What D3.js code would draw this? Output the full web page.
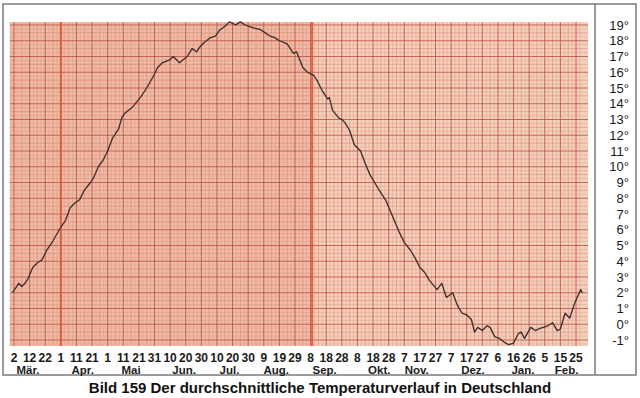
<!DOCTYPE html>
<html>
<head>
<meta charset="utf-8">
<script src="https://cdn.jsdelivr.net/npm/d3@7/dist/d3.min.js"></script>
<style>
  body { margin: 0; background: #fff; }
  svg { display: block; font-family: "Liberation Sans", Arial, sans-serif; }
</style>
</head>
<body>
<svg id="chart" width="640" height="398"></svg>
<script>
// Days counted from 1 March (day 0), temperature in °C
const days = [0, 2, 4, 6, 8, 10, 13, 16, 19, 22, 26, 30, 34, 37, 40, 43, 46, 50, 52, 55,
  58, 61, 64, 68, 70, 72, 77, 82, 86, 90, 93, 96, 101, 103, 107, 112, 115, 118, 120, 123,
  127, 130, 133, 136, 139, 143, 146, 149, 152, 155, 159, 162, 165, 168, 171, 176, 180, 182, 186, 189,
  193, 195, 198, 202, 203, 205, 209, 211, 213, 216, 219, 223, 226, 229, 232, 235, 239, 242, 245, 248,
  251, 255, 258, 261, 264, 267, 272, 275, 278, 282, 285, 288, 291, 294, 296, 298, 301, 304, 306, 309,
  312, 316, 318, 321, 324, 326, 328, 332, 335, 337, 340, 343, 346, 349, 351, 354, 357, 360, 364, 365];
const temps = [2.0, 2.3, 2.6, 2.4, 2.6, 2.9, 3.6, 3.9, 4.1, 4.7, 5.3, 6.0, 6.6, 7.4, 7.7, 7.9, 8.5, 9.0, 9.3, 10.0,
  10.4, 11.0, 11.8, 12.4, 13.1, 13.4, 13.8, 14.4, 15.0, 15.7, 16.3, 16.6, 16.8, 17.0, 16.6, 17.0, 17.5, 17.3, 17.6, 17.9,
  18.2, 18.3, 18.7, 18.9, 19.2, 19.0, 19.2, 19.0, 18.9, 18.8, 18.7, 18.5, 18.3, 18.2, 18.0, 17.8, 17.2, 17.3, 16.3, 16.0,
  15.8, 15.5, 14.9, 14.3, 14.4, 13.6, 13.1, 13.0, 12.8, 12.3, 11.4, 11.0, 10.2, 9.5, 9.0, 8.5, 7.9, 7.2, 6.5, 5.8,
  5.2, 4.7, 4.2, 3.6, 3.3, 2.8, 2.2, 2.6, 1.7, 2.0, 1.2, 0.7, 0.6, 0.3, -0.5, -0.2, -0.4, -0.1, -0.2, -0.8,
  -0.9, -1.2, -1.3, -1.2, -0.6, -0.5, -0.9, -0.2, -0.4, -0.3, -0.2, -0.1, 0.1, -0.4, -0.3, 0.7, 0.4, 1.3, 2.2, 2.0];

// Tick labels under the strip, one every ten days from 2 March
const dayTicks = [1, 11, 21, 31, 41, 51, 61, 71, 81, 91, 101, 111, 121, 131, 141, 151, 161, 171, 181,
  191, 201, 211, 221, 231, 241, 251, 261, 271, 281, 291, 301, 311, 321, 331, 341, 351, 361];
const dayLabels = ["2", "12", "22", "1", "11", "21", "1", "11", "21", "31", "10", "20", "30", "10", "20", "30",
  "9", "19", "29", "8", "18", "28", "8", "18", "28", "7", "17", "27", "7", "17", "27", "6", "16", "26", "5", "15", "25"];
const months = ["Mär.", "Apr.", "Mai", "Jun.", "Jul.", "Aug.", "Sep.", "Okt.", "Nov.", "Dez.", "Jan.", "Feb."];
const monthPos = [10, 45, 76, 110, 139, 169, 200, 235, 259, 295, 327, 355];
const degTicks = d3.range(-1, 20);
const redLines = [31, 192];

const svg = d3.select("#chart");
const plotL = 10, plotR = 588, plotT = 22, plotB = 346;

const x = d3.scaleLinear().domain([1, 361]).range([14, 576]);
const y = d3.scaleLinear().domain([-1, 19]).range([340, 25]);

// outer frame and divider
svg.append("rect").attr("x", 3).attr("y", 4).attr("width", 633).attr("height", 371)
  .attr("fill", "#fff").attr("stroke", "#7a7a7a").attr("stroke-width", 1.5);
svg.append("line").attr("x1", 595).attr("x2", 595).attr("y1", 4).attr("y2", 375)
  .attr("stroke", "#7a7a7a").attr("stroke-width", 1.5);

// graph paper background: warmer up to the September line, paler after it
const paper = svg.append("g");
paper.append("rect").attr("x", plotL).attr("y", plotT).attr("width", x(192) - plotL).attr("height", plotB - plotT)
  .attr("fill", "#efbba4");
paper.append("rect").attr("x", x(192)).attr("y", plotT).attr("width", plotR - x(192)).attr("height", plotB - plotT)
  .attr("fill", "#f4cfbb");

// fine grid
const hLines = d3.range(-1.25, 19.25, 0.25);
paper.selectAll(".h").data(hLines).enter().append("line")
  .attr("x1", plotL).attr("x2", plotR)
  .attr("y1", d => y(d)).attr("y2", d => y(d))
  .attr("stroke", d => Number.isInteger(d) ? "#b94a3c" : "#d07868")
  .attr("stroke-opacity", d => Number.isInteger(d) ? 0.8 : (d % 0.5 === 0 ? 0.65 : 0.35))
  .attr("stroke-width", d => Number.isInteger(d) ? 1 : 0.7);

const vLines = d3.range(-1.5, 366, 2.5);
paper.selectAll(".v").data(vLines.filter(d => x(d) >= plotL && x(d) <= plotR)).enter().append("line")
  .attr("x1", d => x(d)).attr("x2", d => x(d))
  .attr("y1", plotT).attr("y2", plotB)
  .attr("stroke", d => ((d - 1) % 10 === 0) ? "#b94a3c" : "#d07868")
  .attr("stroke-opacity", d => ((d - 1) % 10 === 0) ? 0.8 : (((d - 1) % 5 === 0) ? 0.65 : 0.35))
  .attr("stroke-width", d => ((d - 1) % 10 === 0) ? 1 : 0.7);

paper.selectAll(".red").data(redLines).enter().append("line")
  .attr("x1", d => x(d)).attr("x2", d => x(d))
  .attr("y1", plotT).attr("y2", plotB)
  .attr("stroke", "#e2553e").attr("stroke-width", 2).attr("stroke-opacity", 0.9);

// temperature curve
const line = d3.line()
  .x((d, i) => x(days[i]))
  .y(d => y(d));
svg.append("path").datum(temps)
  .attr("d", line)
  .attr("fill", "none")
  .attr("stroke", "#3b2b2b")
  .attr("stroke-width", 1.3)
  .attr("stroke-linejoin", "round");

// day labels
svg.append("g").selectAll("text").data(dayTicks).enter().append("text")
  .attr("x", d => x(d)).attr("y", 362)
  .attr("text-anchor", "middle")
  .attr("font-size", 12).attr("font-weight", "bold").attr("fill", "#1a1a1a")
  .text((d, i) => dayLabels[i]);

// month labels
svg.append("g").selectAll("text").data(monthPos).enter().append("text")
  .attr("x", d => x(d)).attr("y", 374)
  .attr("text-anchor", "middle")
  .attr("font-size", 11.5).attr("font-weight", "bold").attr("fill", "#1a1a1a")
  .text((d, i) => months[i]);

// degree labels on the right
svg.append("g").selectAll("text").data(degTicks).enter().append("text")
  .attr("x", 629).attr("y", d => y(d) + 4.5)
  .attr("text-anchor", "end")
  .attr("font-size", 13).attr("fill", "#1a1a1a")
  .text(d => (d < 0 ? "-" + Math.abs(d) : d) + "°");

// caption
svg.append("text")
  .attr("x", 320).attr("y", 393)
  .attr("text-anchor", "middle")
  .attr("font-size", 15).attr("font-weight", "bold").attr("fill", "#111")
  .text("Bild 159  Der durchschnittliche Temperaturverlauf in Deutschland");
</script>
</body>
</html>
